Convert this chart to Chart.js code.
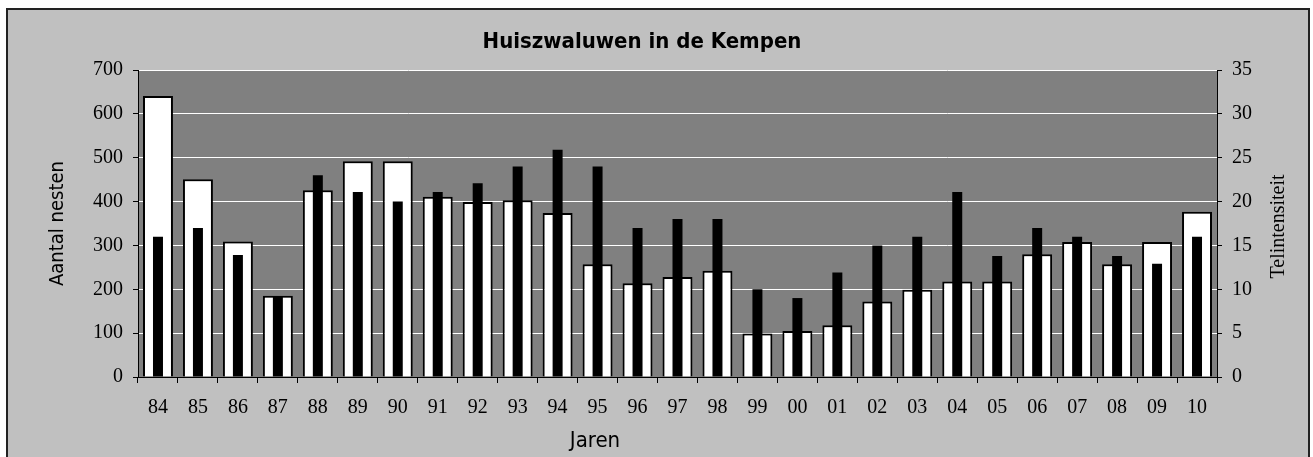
<!DOCTYPE html>
<html>
<head>
<meta charset="utf-8">
<script src="https://cdn.jsdelivr.net/npm/chart.js@4"></script>
<style>
  html, body { margin: 0; padding: 0; background: #fff; }
  #frame {
    position: absolute; left: 6px; top: 8px;
    width: 1300px; height: 460px;
    border: 2px solid #222; background: #c0c0c0;
  }
  canvas { display: block; }
</style>
</head>
<body>
<div id="frame"><canvas id="chart" width="1300" height="460"></canvas></div>
<script>
// ---- data ----
const years = ['84','85','86','87','88','89','90','91','92','93','94','95','96','97','98','99','00','01','02','03','04','05','06','07','08','09','10'];
const nesten = [641,451,309,185,426,492,492,411,399,403,374,257,214,228,242,99,105,118,172,199,218,218,280,308,257,308,377];
const telintensiteit = [16,17,13.9,9.2,23,21.1,20,21.1,22.1,24,25.9,24,17,18,18,10,9,11.9,15,16,21.1,13.8,17,16,13.8,12.9,16];
const leftTicks = [0,100,200,300,400,500,600,700];
const rightTicks = [0,5,10,15,20,25,30,35];

const serif = "'Liberation Serif', 'Times New Roman', serif";
const sans = "'DejaVu Sans', Verdana, sans-serif";
const cond = "'DejaVu Sans Condensed', " + sans;

// grey plot area
const plotBg = {
  id: 'plotBg',
  beforeDraw(chart) {
    const { ctx, chartArea: a } = chart;
    ctx.save();
    ctx.fillStyle = '#808080';
    ctx.fillRect(a.left, a.top, a.right - a.left, a.bottom - a.top);
    ctx.restore();
  }
};

// chart title, x title (both left of centre) and right axis title reading bottom-to-top
const extraText = {
  id: 'extraText',
  afterDraw(chart) {
    const { ctx, chartArea: a } = chart;
    ctx.save();
    ctx.fillStyle = '#000';
    ctx.textAlign = 'center';
    ctx.textBaseline = 'middle';
    ctx.font = 'bold 22px ' + cond;
    ctx.fillText('Huiszwaluwen in de Kempen', 634, 32);
    ctx.font = '22px ' + cond;
    ctx.fillText('Jaren', 587, 431);
    ctx.translate(1271, (a.top + a.bottom) / 2 + 3);
    ctx.rotate(-Math.PI / 2);
    ctx.font = '20px ' + serif;
    ctx.fillText('Telintensiteit', 0, 0);
    ctx.restore();
  }
};

new Chart(document.getElementById('chart'), {
  type: 'bar',
  data: {
    labels: years,
    datasets: [
      {
        label: 'Telintensiteit',
        data: telintensiteit,
        yAxisID: 'y1',
        backgroundColor: '#000',
        borderWidth: 0,
        grouped: false,
        barPercentage: 0.25,
        categoryPercentage: 1,
        order: 0
      },
      {
        label: 'Aantal nesten',
        data: nesten,
        yAxisID: 'y',
        backgroundColor: '#fff',
        borderColor: '#000',
        borderWidth: 2,
        grouped: false,
        barPercentage: 0.75,
        categoryPercentage: 1,
        order: 1
      }
    ]
  },
  options: {
    responsive: false,
    animation: false,
    layout: { padding: { top: 60 } },
    plugins: {
      legend: { display: false },
      tooltip: { enabled: false },
      title: { display: false }
    },
    scales: {
      x: {
        grid: { drawOnChartArea: false, drawTicks: true, tickLength: 6, tickColor: '#000' },
        border: { color: '#000', width: 1 },
        ticks: { color: '#000', font: { family: serif, size: 20 }, padding: 13, maxRotation: 0, autoSkip: false },
        afterFit(s) { s.height = 93; }
      },
      y: {
        position: 'left',
        min: 0, max: 700,
        afterBuildTicks(s) { s.ticks = leftTicks.map(v => ({ value: v })); },
        grid: { color: '#fff', lineWidth: 1, tickColor: '#000', tickLength: 5 },
        border: { color: '#000', width: 1 },
        ticks: { color: '#000', font: { family: serif, size: 20 }, padding: 10 },
        title: { display: true, text: 'Aantal nesten', color: '#000', font: { family: cond, size: 20 }, padding: { top: 38, bottom: 0 } },
        afterFit(s) { s.width = 130; }
      },
      y1: {
        position: 'right',
        min: 0, max: 35,
        afterBuildTicks(s) { s.ticks = rightTicks.map(v => ({ value: v })); },
        grid: { drawOnChartArea: false, tickColor: '#000', tickLength: 5 },
        border: { color: '#000', width: 1 },
        ticks: { color: '#000', font: { family: serif, size: 20 }, padding: 10 },
        afterFit(s) { s.width = 91; }
      }
    }
  },
  plugins: [plotBg, extraText]
});
</script>
</body>
</html>
